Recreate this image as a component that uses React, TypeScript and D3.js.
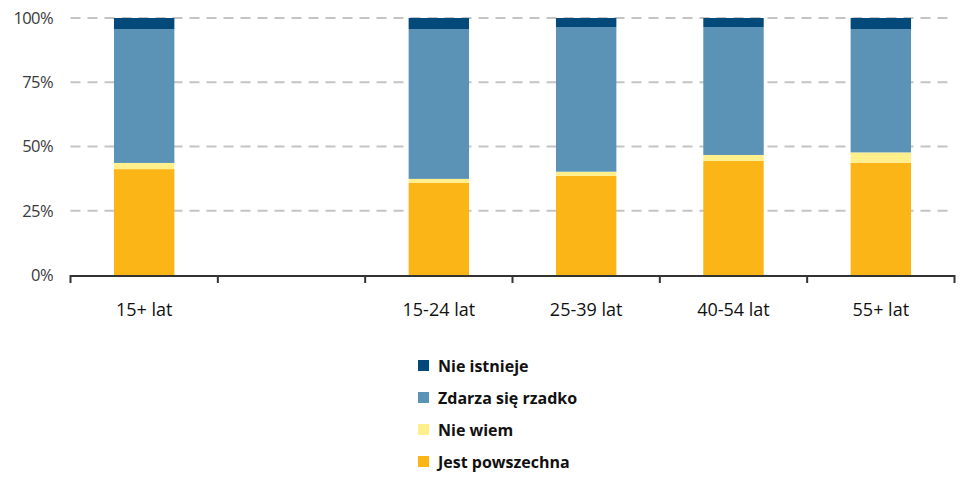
import React from "react";
import * as d3 from "d3";

const categories = ["15+ lat", "", "15-24 lat", "25-39 lat", "40-54 lat", "55+ lat"];
const seriesNames = ["Jest powszechna", "Nie wiem", "Zdarza się rzadko", "Nie istnieje"];
const jestPowszechna = [41.2, null, 35.9, 38.6, 44.4, 43.7];
const nieWiem = [2.4, null, 1.5, 1.6, 2.3, 4.0];
const zdarzaSie = [52.1, null, 58.3, 56.3, 49.8, 48.0];
const nieIstnieje = [4.3, null, 4.3, 3.5, 3.5, 4.3];
const yTicks = [0, 25, 50, 75, 100];
const legendOrder = ["Nie istnieje", "Zdarza się rzadko", "Nie wiem", "Jest powszechna"];

const colors: Record<string, string> = {
  "Jest powszechna": "#fbb517",
  "Nie wiem": "#fff08c",
  "Zdarza się rzadko": "#5b93b7",
  "Nie istnieje": "#034a7a",
};

export default function App() {
  const W = 972, H = 479;
  const x0 = 70.5, x1 = 954.5, yTop = 18, yBot = 275;
  const x = d3.scaleBand<string>().domain(categories.map((c, i) => String(i))).range([x0, x1]).paddingInner(0.59).paddingOuter(0.295);
  const xOuter = d3.scaleBand<string>().domain(categories.map((c, i) => String(i))).range([x0, x1]);
  const y = d3.scaleLinear().domain([0, 100]).range([yBot, yTop]);
  const seriesVals = [jestPowszechna, nieWiem, zdarzaSie, nieIstnieje];
  const rows = categories.map((c, i) => {
    const r: any = { key: String(i) };
    seriesNames.forEach((s, k) => (r[s] = seriesVals[k][i] ?? 0));
    return r;
  });
  const stacked = d3.stack<any>().keys(seriesNames)(rows);
  const font = "'Open Sans', sans-serif";
  return (
    <svg width={W} height={H} style={{ position: "absolute", left: 0, top: 0, background: "#fff" }}>
      {yTicks.filter((t) => t > 0).map((t) => (
        <line key={t} x1={x0} x2={x1} y1={y(t)} y2={y(t)} stroke="#c4c4c4" strokeWidth={2} strokeDasharray="10,7" />
      ))}
      {yTicks.map((t) => (
        <text key={t} x={53} y={y(t)} dy="0.36em" textAnchor="end" fontFamily={font} fontSize={16.5} fill="#3a3a3a" letterSpacing={-0.6}>
          {t}%
        </text>
      ))}
      {stacked.map((s) => (
        <g key={s.key} fill={colors[s.key]}>
          {s.map((d, i) =>
            d[1] - d[0] > 0 ? (
              <rect key={i} x={x(String(i))} width={x.bandwidth()} y={y(d[1])} height={y(d[0]) - y(d[1])} />
            ) : null
          )}
        </g>
      ))}
      <line x1={x0} x2={x1} y1={yBot + 1} y2={yBot + 1} stroke="#333" strokeWidth={2} />
      {categories.map((c, i) => (
        <line key={"t" + i} x1={xOuter(String(i))!} x2={xOuter(String(i))!} y1={yBot} y2={yBot + 8} stroke="#333" strokeWidth={2} />
      ))}
      <line x1={x1} x2={x1} y1={yBot} y2={yBot + 8} stroke="#333" strokeWidth={2} />
      {categories.map((c, i) => (
        <text key={"l" + i} x={xOuter(String(i))! + xOuter.bandwidth() / 2} y={316} textAnchor="middle" fontFamily={font} fontSize={18} fill="#111">
          {c}
        </text>
      ))}
      {legendOrder.map((s, i) => (
        <g key={s} transform={`translate(418, ${366 + i * 32})`}>
          <rect x={0} y={-6} width={11} height={11} fill={colors[s]} />
          <text x={20} y={0} dy="0.36em" fontFamily={font} fontSize={16} fontWeight="bold" fill="#111">
            {s}
          </text>
        </g>
      ))}
    </svg>
  );
}
